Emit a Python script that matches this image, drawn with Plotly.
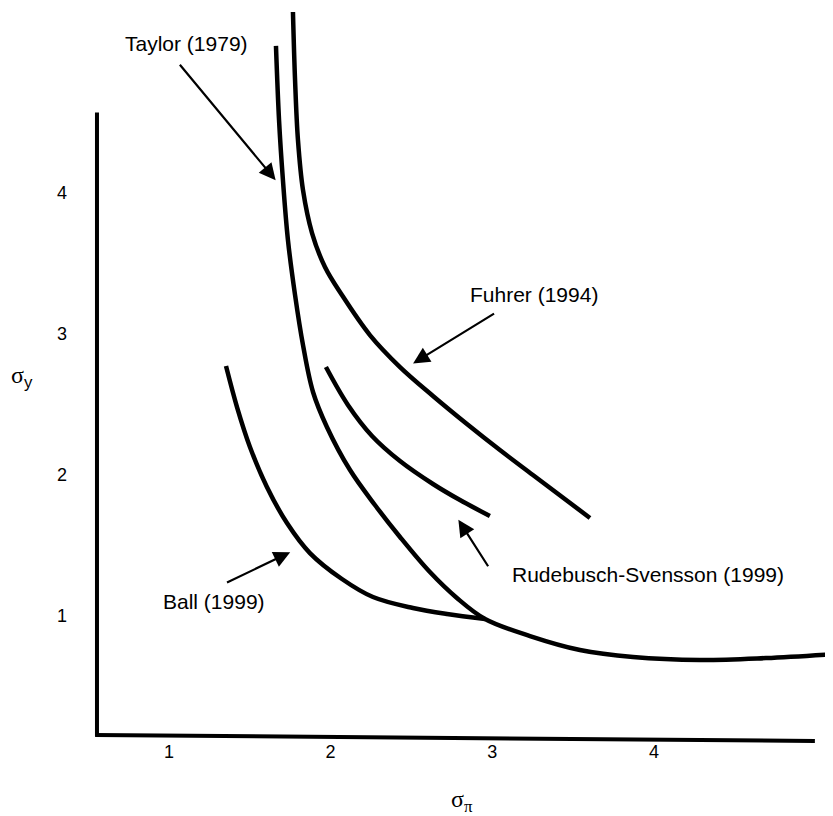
import plotly.graph_objects as go

# ---- data (sigma_pi, sigma_y) ----
taylor_x = [1.662, 1.681, 1.705, 1.736, 1.780, 1.829, 1.891, 1.977, 2.120, 2.274, 2.429, 2.614,
            2.781, 2.955, 3.233, 3.542, 3.870, 4.284, 4.692, 5.110]
taylor_y = [5.043, 4.517, 4.092, 3.666, 3.275, 2.921, 2.587, 2.339, 2.033, 1.785, 1.558, 1.309,
            1.125, 0.976, 0.855, 0.756, 0.706, 0.685, 0.699, 0.727]

fuhrer_x = [1.767, 1.780, 1.798, 1.829, 1.885, 1.965, 2.070, 2.243, 2.429, 2.633, 2.843, 3.047,
            3.251, 3.604]
fuhrer_y = [5.284, 4.801, 4.375, 4.021, 3.715, 3.474, 3.275, 2.991, 2.764, 2.559, 2.360, 2.175,
            1.998, 1.693]

rs_x = [1.971, 2.107, 2.256, 2.429, 2.633, 2.800, 2.985]
rs_y = [2.764, 2.495, 2.275, 2.097, 1.934, 1.820, 1.707]

ball_x = [1.353, 1.421, 1.501, 1.606, 1.730, 1.872, 2.070, 2.262, 2.509, 2.720, 2.955]
ball_y = [2.771, 2.480, 2.197, 1.913, 1.657, 1.444, 1.260, 1.132, 1.054, 1.011, 0.976]

tick_vals = [1, 2, 3, 4]
tick_text = ["1", "2", "3", "4"]

# labels: (text, label x, label y, arrow tail x, tail y, arrow tip x, tip y)
labels = [
    ("Taylor (1979)", 1.11, 5.06, 1.06, 4.92, 1.66, 4.09),
    ("Fuhrer (1994)", 3.26, 3.28, 3.02, 3.15, 2.51, 2.79),
    ("Rudebusch-Svensson (1999)", 3.96, 1.29, 2.98, 1.34, 2.79, 1.68),
    ("Ball (1999)", 1.28, 1.10, 1.35, 1.23, 1.75, 1.45),
]

SANS = "Liberation Sans, Arial, Helvetica, sans-serif"
SERIF = "Liberation Serif, Times New Roman, serif"

fig = go.Figure()
for xs, ys in [(taylor_x, taylor_y), (fuhrer_x, fuhrer_y), (rs_x, rs_y), (ball_x, ball_y)]:
    fig.add_trace(go.Scatter(x=xs, y=ys, mode="lines",
                             line=dict(color="black", width=4.5, shape="spline", smoothing=1.0),
                             showlegend=False, hoverinfo="skip"))

annotations = []
for text, lx, ly, tx, ty, hx, hy in labels:
    annotations.append(dict(x=lx, y=ly, xref="x", yref="y", text=text, showarrow=False,
                            xanchor="center", yanchor="middle",
                            font=dict(family=SANS, size=21, color="black")))
    annotations.append(dict(x=hx, y=hy, ax=tx, ay=ty, xref="x", yref="y", axref="x", ayref="y",
                            text="", showarrow=True, arrowhead=2, arrowsize=1.5, arrowwidth=2.2,
                            arrowcolor="black", standoff=0, startstandoff=0))

annotations.append(dict(x=-0.077, y=0.499, xref="paper", yref="paper", showarrow=False,
                        xanchor="center", yanchor="middle",
                        text="σ<sub><span style='font-family:Liberation Sans'>y</span></sub>",
                        font=dict(family=SERIF, size=24, color="black")))
annotations.append(dict(x=0.507, y=-0.077, xref="paper", yref="paper", showarrow=False,
                        xanchor="center", yanchor="middle",
                        text="σ<sub>π</sub>",
                        font=dict(family=SERIF, size=24, color="black")))

shapes = [
    dict(type="line", xref="x", yref="y", x0=0.555, y0=0.14, x1=0.555, y1=4.57,
         line=dict(color="black", width=4)),
    dict(type="line", xref="x", yref="y", x0=0.545, y0=0.153, x1=4.995, y1=0.11,
         line=dict(color="black", width=4)),
]

# the page body has an 8px margin, so the figure is drawn 8px smaller to fill the window
fig.update_layout(
    width=825, height=808,
    margin=dict(l=72, r=0, t=0, b=72, autoexpand=False),
    paper_bgcolor="white", plot_bgcolor="white",
    annotations=annotations, shapes=shapes,
    showlegend=False,
)
fig.update_xaxes(range=[0.450, 5.107], tickvals=tick_vals, ticktext=tick_text,
                 showgrid=False, zeroline=False, showline=False, ticks="",
                 tickfont=dict(family=SANS, size=18, color="black"), ticklabelstandoff=-5)
fig.update_yaxes(range=[0.089, 5.312], tickvals=tick_vals, ticktext=tick_text,
                 showgrid=False, zeroline=False, showline=False, ticks="",
                 tickfont=dict(family=SANS, size=18, color="black"), ticklabelstandoff=12)

fig.write_html("out.html")
